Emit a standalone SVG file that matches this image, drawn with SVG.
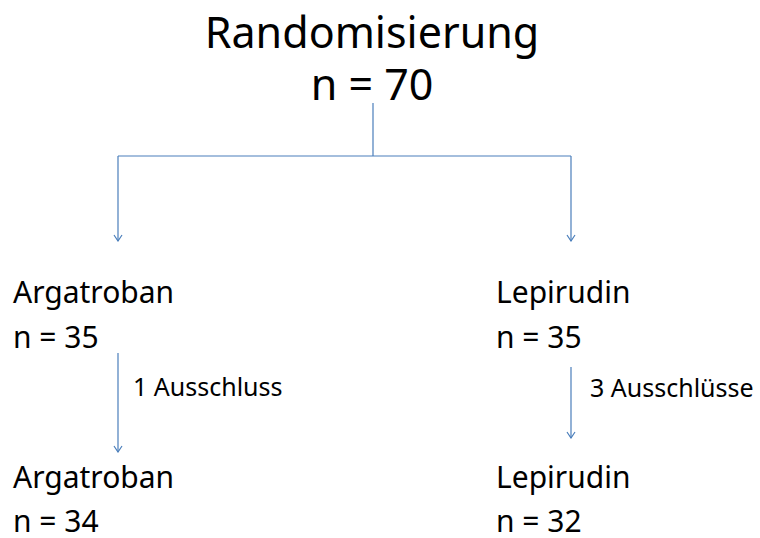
<svg xmlns="http://www.w3.org/2000/svg" width="760" height="538" viewBox="0 0 760 538">
<style>
text{font-family:"Noto Sans","Open Sans",sans-serif;fill:#000}
.t{font-size:43px}
.m{font-size:30px}
.s{font-size:25px}
.c{fill:none;stroke:#4a7ebb;stroke-width:1.2}
</style>
<defs>
<marker id="a" viewBox="0 0 8 10" refX="7" refY="5" markerWidth="8" markerHeight="10" markerUnits="userSpaceOnUse" orient="auto">
<path d="M1,1 L7,5 L1,9" fill="none" stroke="#4a7ebb" stroke-width="1.2"/>
</marker>
</defs>
<rect width="760" height="538" fill="#fff"/>
<g id="connectors">
<path class="c" d="M373,103 V156"/>
<path class="c" d="M118,156 H571"/>
<path class="c" d="M118,156 V241" marker-end="url(#a)"/>
<path class="c" d="M571,156 V241" marker-end="url(#a)"/>
<path class="c" d="M118,353 V452" marker-end="url(#a)"/>
<path class="c" d="M571,367 V438" marker-end="url(#a)"/>
<text class="s" x="133" y="396">1 Ausschluss</text>
<text class="s" x="590" y="397">3 Ausschlüsse</text>
</g>
<g id="randomisierung">
<text class="t" x="372" y="48" text-anchor="middle">Randomisierung</text>
<text class="t" x="372" y="100" text-anchor="middle">n = 70</text>
</g>
<g id="argatroban1">
<text class="m" x="13" y="303">Argatroban</text>
<text class="m" x="13" y="348">n = 35</text>
</g>
<g id="lepirudin1">
<text class="m" x="496" y="303">Lepirudin</text>
<text class="m" x="496" y="348">n = 35</text>
</g>
<g id="argatroban2">
<text class="m" x="13" y="488">Argatroban</text>
<text class="m" x="13" y="532">n = 34</text>
</g>
<g id="lepirudin2">
<text class="m" x="496" y="488">Lepirudin</text>
<text class="m" x="496" y="532">n = 32</text>
</g>
</svg>
